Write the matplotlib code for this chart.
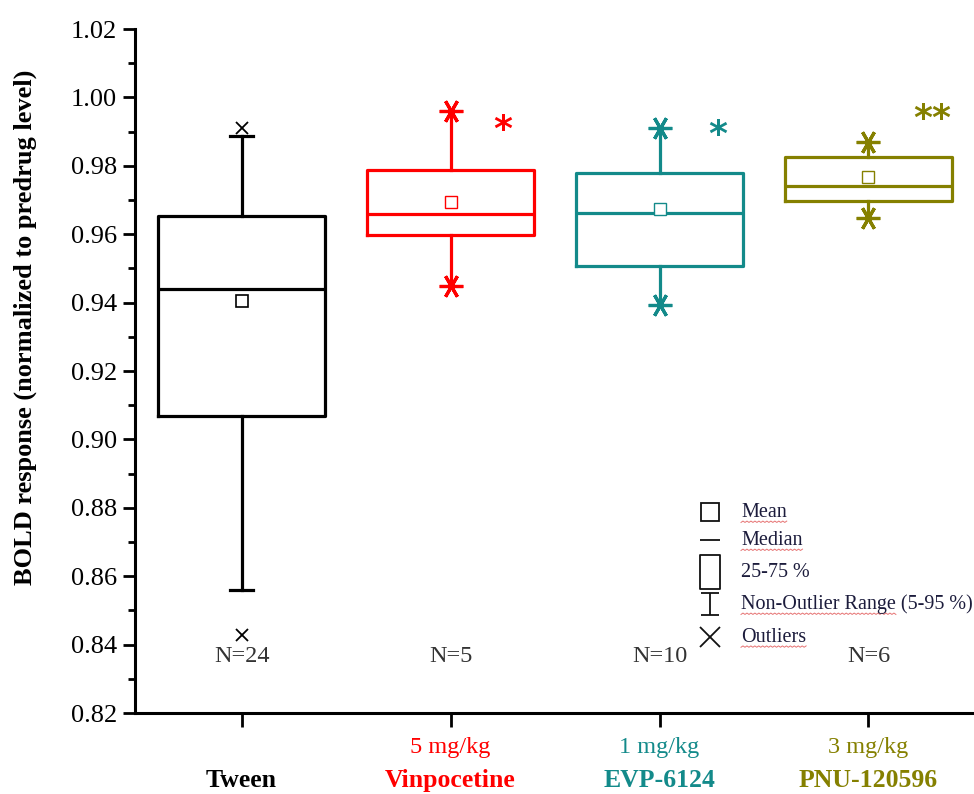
import numpy as np
import matplotlib
matplotlib.use("Agg")
import matplotlib.pyplot as plt
from matplotlib.path import Path

plt.rcParams['font.family'] = ['Liberation Serif', 'DejaVu Serif']

# values
groups = ['Tween', 'Vinpocetine', 'EVP-6124', 'PNU-120596']
doses = ['', '5 mg/kg', '1 mg/kg', '3 mg/kg']
n_labels = ['N=24', 'N=5', 'N=10', 'N=6']
colors = ['black', '#ff0000', '#138a8a', '#858000']
q1 = [0.9067, 0.9599, 0.9506, 0.9698]
med = [0.9441, 0.9660, 0.9662, 0.9742]
q3 = [0.9652, 0.9788, 0.9779, 0.9827]
means = [0.9406, 0.9695, 0.9675, 0.9767]
whis_lo = [0.8560, 0.9450, 0.9394, 0.9647]
whis_hi = [0.9888, 0.9960, 0.9910, 0.9871]
outliers = [[0.8428, 0.9910], [], [], []]
sig_marks = ['', '*', '*', '**']
sig_x = [0, 2.249, 3.278, 4.306]
sig_y = [0, 0.9955, 0.9940, 0.9987]

legend_labels = ['Mean', 'Median', '25-75 %', 'Non-Outlier Range (5-95 %)', 'Outliers']
# part of each legend label that carries the spell-check squiggle
squiggled = ['Mean', 'Median', '', 'Non-Outlier Range', 'Outliers']

fig = plt.figure(figsize=(9.74, 7.94), dpi=100)
ax = fig.add_axes([135 / 974, 81 / 794, 839 / 974, 684 / 794])

pos = np.arange(1, len(groups) + 1)
for i, c in enumerate(colors):
    stats = [dict(med=med[i], q1=q1[i], q3=q3[i], whislo=whis_lo[i],
                  whishi=whis_hi[i], mean=means[i], fliers=outliers[i])]
    lw = 2.3
    is_ref = i == 0
    ax.bxp(stats, positions=[pos[i]], widths=0.8, showmeans=True,
           showcaps=is_ref, showfliers=is_ref,
           boxprops=dict(color=c, linewidth=lw),
           medianprops=dict(color=c, linewidth=lw),
           whiskerprops=dict(color=c, linewidth=lw),
           capprops=dict(color=c, linewidth=lw),
           capwidths=0.11,
           meanprops=dict(marker='s', markerfacecolor='white',
                          markeredgecolor=c, markersize=8.5,
                          markeredgewidth=1.2 if is_ref else 1.0),
           flierprops=dict(marker='x', markeredgecolor=c, markersize=9,
                           markeredgewidth=1.3))
    if not is_ref:
        ax.plot([pos[i], pos[i]], [whis_lo[i], whis_hi[i]], linestyle='none',
                marker=(6, 2, 90), markersize=17, markeredgewidth=2.3,
                color=c)
    if sig_marks[i]:
        ax.text(sig_x[i], sig_y[i], sig_marks[i], color=c, fontsize=26,
                fontweight='bold', ha='center', va='top', family='DejaVu Sans')
    ax.text(pos[i], 0.8365, n_labels[i], ha='center', va='center',
            fontsize=17.5, color='#333333')
    ax.text(pos[i], -0.051, doses[i], transform=ax.get_xaxis_transform(),
            ha='center', va='center', fontsize=17.5, color=c)
    ax.text(pos[i], -0.099, groups[i], transform=ax.get_xaxis_transform(),
            ha='center', va='center', fontsize=18.5, fontweight='bold', color=c)

# legend drawn by hand, like the original
tall_box = Path([(-0.3, -0.5), (0.3, -0.5), (0.3, 0.5), (-0.3, 0.5), (-0.3, -0.5)],
                [Path.MOVETO, Path.LINETO, Path.LINETO, Path.LINETO, Path.CLOSEPOLY])
ibeam = Path([(-0.4, 0.5), (0.4, 0.5), (0, 0.5), (0, -0.5), (-0.4, -0.5), (0.4, -0.5)],
             [Path.MOVETO, Path.LINETO, Path.MOVETO, Path.LINETO, Path.MOVETO, Path.LINETO])
leg_markers = ['s', '_', tall_box, ibeam, 'x']
leg_sizes = [13, 15, 24, 16, 14]
leg_y = [0.8787, 0.8705, 0.8612, 0.8518, 0.8422]
leg_x, leg_text_x = 3.24, 3.39
for m, s, y, lab in zip(leg_markers, leg_sizes, leg_y, legend_labels):
    ax.plot(leg_x, y, marker=m, markersize=s, markerfacecolor='white',
            markeredgecolor='#111111', markeredgewidth=1.3, linestyle='none',
            clip_on=False)
    ax.text(leg_text_x, y, lab, ha='left', va='center', fontsize=14.5,
            color='#1c1c3c')

ax.set_xlim(0.49, 4.505)
ax.set_ylim(0.82, 1.02)
ax.set_xticks(pos)
ax.set_xticklabels([])
ax.set_yticks(np.arange(0.82, 1.021, 0.02))
ax.set_yticks(np.arange(0.83, 1.02, 0.02), minor=True)
ax.yaxis.set_major_formatter(plt.FormatStrFormatter('%.2f'))
ax.tick_params(axis='y', which='major', length=9, width=2, labelsize=19, pad=4)
ax.tick_params(axis='y', which='minor', length=5, width=2)
ax.tick_params(axis='x', which='major', length=10, width=2)
for side in ['top', 'right']:
    ax.spines[side].set_visible(False)
for side in ['left', 'bottom']:
    ax.spines[side].set_linewidth(2.2)

ax.set_ylabel('BOLD response (normalized to predrug level)', fontsize=19,
              fontweight='bold')
ax.yaxis.set_label_coords(-0.117, 0.564)

# faint red squiggles under the legend words, as in the source image
fig.canvas.draw()
renderer = fig.canvas.get_renderer()
inv = ax.transData.inverted()
for word, y in zip(squiggled, leg_y):
    if not word:
        continue
    t = ax.text(leg_text_x, y, word, ha='left', va='center', fontsize=14.5)
    bb = t.get_window_extent(renderer)
    t.remove()
    (x0, y0), (x1, _) = inv.transform([(bb.x0, bb.y0), (bb.x1, bb.y0)])
    xs = np.linspace(x0, x1, int((bb.x1 - bb.x0) / 2) + 2)
    wave = np.where(np.arange(len(xs)) % 2 == 0, 0.0, 1.0) * 0.0004
    ax.plot(xs, y0 - 0.0002 + wave, color='#e05050', linewidth=0.7,
            alpha=0.8, clip_on=False)

fig.savefig('out.png', dpi=100)
